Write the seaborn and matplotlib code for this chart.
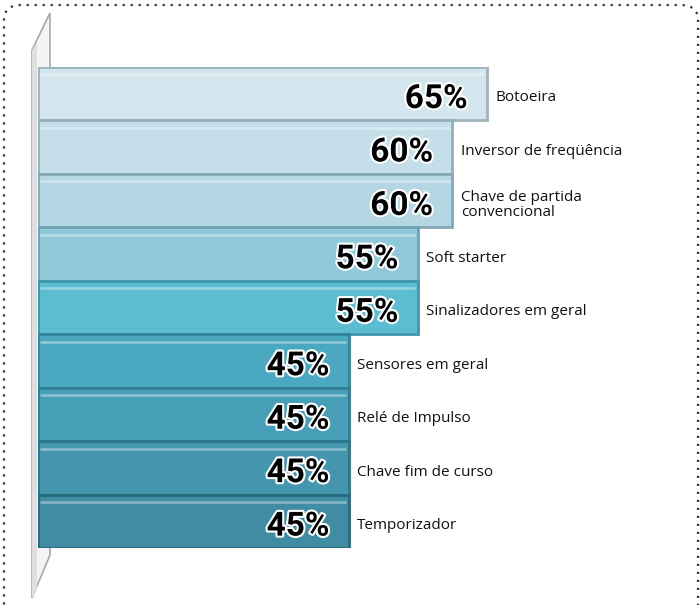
"""
Horizontal 3D-style bar chart: usage of automation components (%)
"""
import matplotlib
matplotlib.use('Agg')
import matplotlib.pyplot as plt
import matplotlib.patheffects as pe
from matplotlib.patches import Polygon, FancyBboxPatch
import seaborn as sns
import pandas as pd

categories = ['Botoeira', 'Inversor de freqüência', 'Chave de partida\nconvencional',
              'Soft starter', 'Sinalizadores em geral', 'Sensores em geral',
              'Relé de Impulso', 'Chave fim de curso', 'Temporizador']
values = [65, 60, 60, 55, 55, 45, 45, 45, 45]
bar_colors = ['#d3e6ee', '#c4dfea', '#b4d7e3', '#90c9d9', '#5cbcd2',
              '#4aa9c1', '#479fb7', '#4396ad', '#3f8ca3']
edge_colors = ['#9fb3ba', '#94b0bb', '#88a9b5', '#6fa3b2', '#3f97ab',
               '#32859b', '#2f7d92', '#2c7489', '#286a7e']

df = pd.DataFrame({'cat': categories, 'val': values})

W, H = 700, 605
fig = plt.figure(figsize=(W / 100, H / 100), dpi=100)

# dotted frame with rounded top-right corner
frame = FancyBboxPatch((4 / W, -0.05), 694 / W, 1.05 - 5 / H,
                       boxstyle='round,pad=0,rounding_size=0.025',
                       transform=fig.transFigure, fill=False,
                       linestyle=(0, (1, 2.6)), linewidth=1.6, edgecolor='#333333')
fig.patches.append(frame)

# left 3D wall (behind the bars)
def fx(px):
    return px / W

def fy(py):
    return 1 - py / H

wall = Polygon([(fx(32), fy(50)), (fx(50), fy(13)), (fx(50), fy(555)), (fx(32), fy(598))],
               closed=True, transform=fig.transFigure, facecolor='#f4f4f6',
               edgecolor='#a8a8ac', linewidth=1.2, zorder=-2)
fig.patches.append(wall)
wall_front = Polygon([(fx(32), fy(50)), (fx(37), fy(42)), (fx(37), fy(590)), (fx(32), fy(598))],
                     closed=True, transform=fig.transFigure, facecolor='#dedee1',
                     edgecolor='none', zorder=-1)
fig.patches.append(wall_front)

px_per_unit = 449 / 65
left_px, top_px, bot_px = 38, 67, 548
ax = fig.add_axes([left_px / W, 1 - bot_px / H, (W - left_px) / W, (bot_px - top_px) / H])
ax.patch.set_alpha(0)
ax.set_zorder(2)

sns.barplot(data=df, x='val', y='cat', hue='cat', palette=bar_colors, legend=False,
            orient='h', width=1.0, ax=ax, linewidth=2, saturation=1)
for bar, ec in zip(ax.patches, edge_colors):
    bar.set_edgecolor(ec)

# highlight stripe on the upper part of each bar
for i, v in enumerate(values):
    ax.plot([0.3, v - 0.4], [i - 0.36, i - 0.36], color='white', alpha=0.35, lw=2,
            solid_capstyle='butt')

ax.set_xlim(0, (W - left_px) / px_per_unit)
ax.set_ylim(8.5, -0.5)
ax.axis('off')

for i, (v, c) in enumerate(zip(values, categories)):
    ax.text(v - 2.8, i + 0.1, f'{v}%', ha='right', va='center', fontsize=24,
            fontweight='bold', family=['Roboto', 'DejaVu Sans'],
            color='black',
            path_effects=[pe.withStroke(linewidth=3, foreground='white')])
    ax.text(v + 1.2, i + 0.08, c, ha='left', va='center', fontsize=11,
            family=['Open Sans', 'DejaVu Sans'], color='#111111', linespacing=1.0)

fig.savefig('out.png', dpi=100)
